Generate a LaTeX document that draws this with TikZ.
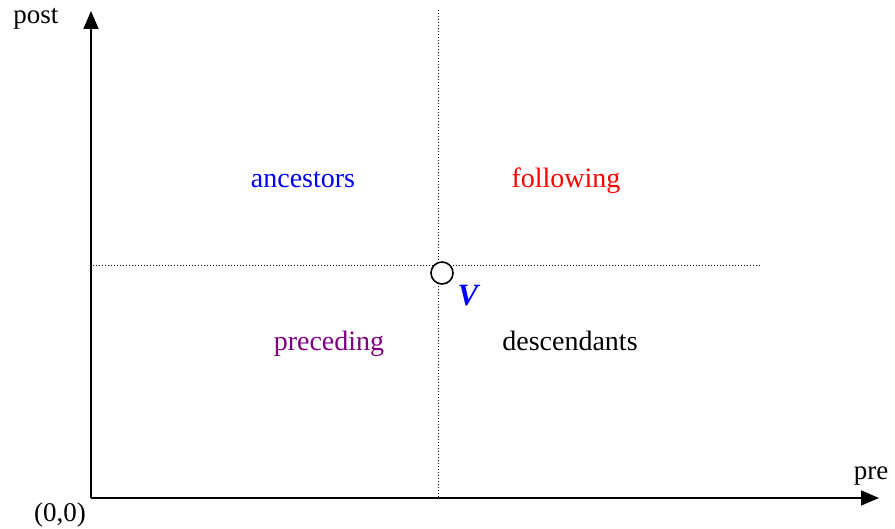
\documentclass[tikz,border=0pt]{standalone}
\usepackage{fontspec}
\setmainfont{Liberation Serif}
\usetikzlibrary{positioning, arrows.meta}

\begin{document}
\begin{tikzpicture}[
    x=1pt, y=1pt,
    axis/.style={-{Triangle[length=18pt, width=15pt]}, line width=1.6pt},
    grid/.style={dotted, line width=1pt},
    region/.style={font=\fontsize{28}{32}\selectfont, inner sep=0pt, anchor=base},
    axislabel/.style={font=\fontsize{27}{32}\selectfont, inner sep=0pt}
]
    \useasboundingbox (0,0) rectangle (895,529);

    % Axes
    \coordinate (origin) at (91,31);
    \coordinate (ytip) at (91,518);
    \coordinate (xtip) at (879,31);
    \draw[axis] (origin) -- (ytip);
    \draw[axis] (origin) -- (xtip);

    % Axis labels
    \node[axislabel] (postlabel) at (36,510) {post};
    \node[axislabel] (prelabel) at (871,53) {pre};
    \node[axislabel] (zero) at (60,14) {(0,0)};

    % Dotted lines through V
    \coordinate (vtop) at (438,519);
    \coordinate (vbot) at (438,31);
    \coordinate (hleft) at (93,263);
    \coordinate (hright) at (760,263);
    \draw[grid] (vtop) -- (vbot);
    \draw[grid] (hleft) -- (hright);

    % Node V
    \node[circle, draw, line width=1.6pt, fill=white, minimum size=22pt, inner sep=0pt] (v) at (442,256) {};
    \node[text=blue, inner sep=0pt, font=\fontsize{31}{34}\selectfont\bfseries\itshape] (vlabel) at (468,233) {V};

    % Regions
    \node[region, text=blue] (anc) at (303,341) {ancestors};
    \node[region, text=red] (fol) at (566,341) {following};
    \node[region, text=violet] (prec) at (329,178) {preceding};
    \node[region] (desc) at (570,178) {descendants};

\end{tikzpicture}
\end{document}
